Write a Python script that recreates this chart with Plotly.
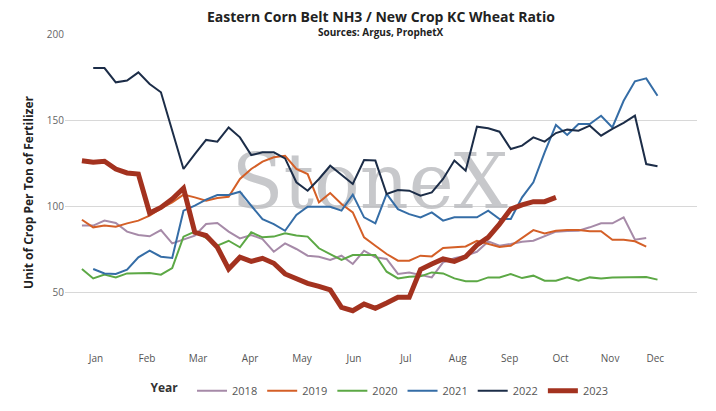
import plotly.graph_objects as go

# one value per week; each series starts at the week given in SERIES
Y2018 = [88.6, 88.6, 91.5, 90.1, 85.1, 83.1, 82.4, 86.0, 78.3, 80.4, 82.8, 89.5, 90.1, 85.1,
         81.2, 83.1, 80.8, 73.4, 78.3, 75.0, 71.1, 70.5, 68.6, 71.1, 66.3, 74.0, 70.2, 69.2,
         60.5, 61.4, 59.9, 58.5, 67.2, 69.6, 71.1, 73.4, 79.4, 76.9, 77.9, 79.2, 79.8, 82.4,
         85.1, 85.5, 85.6, 87.6, 89.9, 89.9, 93.4, 80.4, 81.4]
Y2019 = [92.0, 87.6, 88.6, 88.0, 89.9, 91.5, 94.4, 98.6, 102.1, 106.6, 105.0, 103.1, 104.6, 105.4,
         115.7, 121.5, 125.8, 128.3, 129.2, 121.5, 118.6, 102.1, 107.5, 101.2, 96.3, 81.8, 76.9, 72.1,
         68.2, 68.2, 71.1, 70.7, 75.6, 76.2, 76.5, 79.8, 77.9, 76.2, 76.9, 81.4, 86.0, 84.1,
         85.6, 86.0, 86.0, 85.3, 85.3, 80.4, 80.4, 79.5, 76.4]
Y2020 = [63.4, 57.9, 60.1, 58.5, 60.8, 60.8, 61.0, 60.1, 63.9, 82.2, 85.1, 81.4, 76.9, 79.8,
         76.0, 84.7, 81.8, 82.2, 84.1, 82.8, 82.2, 75.4, 72.1, 68.6, 71.5, 71.5, 71.5, 61.8,
         57.9, 58.9, 59.1, 61.4, 60.8, 57.9, 56.2, 56.2, 58.5, 58.5, 60.5, 58.1, 59.5, 56.6,
         56.6, 58.5, 56.6, 58.5, 57.9, 58.5, 58.5, 58.5, 58.7, 57.2]
Y2021 = [63.4, 60.8, 60.5, 63.0, 70.2, 74.0, 70.5, 69.8, 97.3, 100.2, 103.7, 106.4, 106.4, 108.3,
         100.2, 92.4, 89.5, 85.6, 94.8, 99.6, 99.6, 99.6, 97.3, 106.6, 93.4, 89.9, 107.0,
         98.2, 95.3, 93.4, 96.3, 91.5, 93.4, 93.4, 93.4, 97.3, 92.4, 92.4, 105.0, 113.8, 131.2,
         147.1, 141.3, 147.7, 147.7, 152.5, 145.7, 161.2, 172.5, 174.2, 164.1]
Y2022 = [180.2, 180.2, 171.9, 172.9, 177.7, 170.9, 166.1, 143.8, 121.5, 130.2, 138.4, 137.4, 145.7,
         139.9, 129.6, 131.2, 131.2, 127.7, 113.8, 108.9, 115.7, 123.4, 118.0, 112.8, 126.7, 126.4, 107.0,
         109.3, 108.9, 106.0, 107.9, 115.7, 126.4, 120.5, 146.1, 145.2, 143.2, 133.1, 135.1, 139.9,
         137.4, 142.4, 144.4, 143.8, 146.7, 140.9, 144.8, 148.3, 152.5, 124.4, 123.1]
Y2023 = [126.3, 125.4, 126.0, 121.5, 119.2, 118.6, 95.9, 99.2, 104.1, 110.3, 84.7, 82.8, 76.0, 63.4,
         70.2, 67.8, 69.6, 66.7, 60.5, 57.6, 55.0, 53.3, 51.2, 41.1, 39.1, 43.0, 40.5, 43.6,
         46.9, 46.9, 63.0, 66.3, 69.2, 67.8, 70.5, 77.3, 81.8, 89.5, 98.2, 100.6, 102.5, 102.5, 105.0]

SERIES = [
    ("2018", 0, Y2018, "#a68aa8", 2),
    ("2019", 0, Y2019, "#d45f27", 2),
    ("2020", 0, Y2020, "#5ca845", 2),
    ("2021", 1, Y2021, "#356da6", 2),
    ("2022", 1, Y2022, "#1c2d48", 2),
    ("2023", 0, Y2023, "#a3321f", 5),
]

MONTHS = ["Jan", "Feb", "Mar", "Apr", "May", "Jun", "Jul", "Aug", "Sep", "Oct", "Nov", "Dec"]
MONTH_POS = [1.24, 5.76, 10.28, 14.9, 19.5, 24.1, 28.7, 33.3, 37.9, 42.4, 46.8, 50.8]

fig = go.Figure()

# watermark below the lines
fig.add_trace(go.Scatter(
    x=[25.5], y=[110], mode="text", text=["StoneX"], hoverinfo="skip", showlegend=False,
    textfont=dict(family="DejaVu Serif", size=76, color="rgba(185,186,190,0.8)"),
))

for name, start, vals, color, width in SERIES:
    fig.add_trace(go.Scatter(
        x=list(range(start, start + len(vals))), y=vals, name=name, mode="lines",
        line=dict(color=color, width=width),
    ))

fig.update_layout(
    width=716, height=411,
    paper_bgcolor="white", plot_bgcolor="white",
    margin=dict(l=57, r=27, t=26, b=68, autoexpand=False),
    font=dict(family="Open Sans, Arial", size=11, color="#555"),
    annotations=[
        dict(text="<b>Eastern Corn Belt NH3 / New Crop KC Wheat Ratio</b>",
             xref="paper", yref="paper", x=0.5, y=1.056, xanchor="center", yanchor="middle",
             showarrow=False, font=dict(size=14, color="#222")),
        dict(text="<b>Sources: Argus, ProphetX</b>",
             xref="paper", yref="paper", x=0.5, y=1.005, xanchor="center", yanchor="middle",
             showarrow=False, font=dict(size=10, color="#222")),
    ],
    xaxis=dict(
        range=[-1.5, 54.5], tickmode="array", tickvals=MONTH_POS, ticktext=MONTHS,
        showgrid=False, zeroline=False, ticks="", tickfont=dict(size=10, color="#555"),
    ),
    yaxis=dict(
        range=[15.7, 200], tickvals=[50, 100, 150, 200], showgrid=True,
        gridcolor="#d8d8d8", zeroline=False, tickfont=dict(size=10, color="#666"),
        title=dict(text="<b>Unit of Crop Per Ton of Fertilizer</b>",
                   font=dict(size=12, color="#222"), standoff=10),
    ),
    legend=dict(
        orientation="h", x=0.5, xanchor="center", y=-0.08, yanchor="top",
        title=dict(text="<b>Year</b>  ", font=dict(size=12, color="#333")),
        font=dict(size=11, color="#555"),
    ),
)

fig.write_html("out.html")
